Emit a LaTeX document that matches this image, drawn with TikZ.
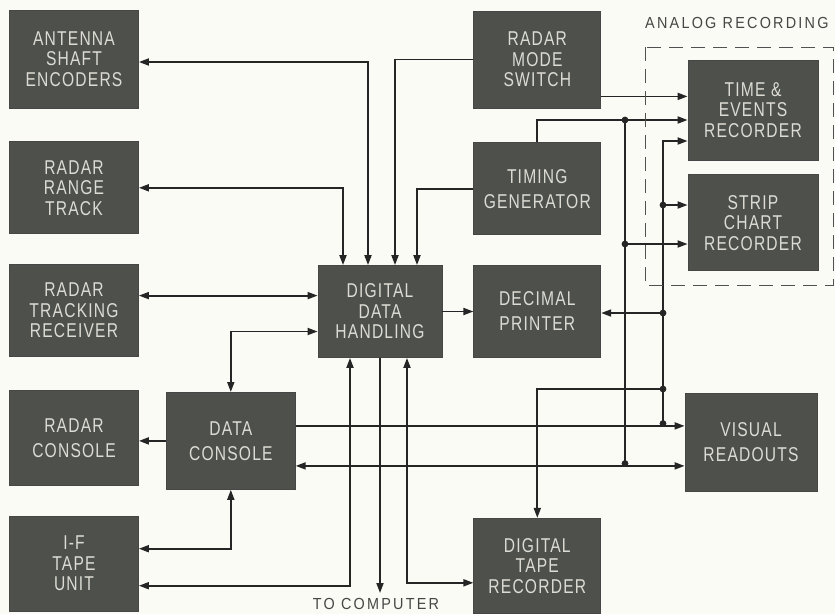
\documentclass[tikz,border=0pt]{standalone}
\usepackage{fontspec}
\setmainfont{Liberation Sans}
\newfontfamily\blockfont[FakeStretch=0.78,LetterSpace=6]{Liberation Sans}
\newfontfamily\labelfont[FakeStretch=0.9,LetterSpace=14]{Liberation Sans}
\usetikzlibrary{arrows.meta, positioning}
\definecolor{PaperWhite}{HTML}{FBFBF5}
\definecolor{BlockGray}{HTML}{4E504C}
\definecolor{BlockText}{HTML}{DCDCD4}
\definecolor{InkBlack}{HTML}{252525}

\begin{document}
\begin{tikzpicture}[
  x=1pt, y=-1pt,
  block/.style={rectangle, draw=InkBlack!85, fill=BlockGray, line width=0.8pt,
    minimum height=95pt, minimum width=129pt, inner sep=0pt, align=center,
    text=BlockText, font=\blockfont\fontsize{20}{20.5}\selectfont},
  twoline/.style={font=\blockfont\fontsize{20}{25}\selectfont},
  wire/.style={draw=InkBlack, line width=1.8pt},
  caption/.style={font=\labelfont\fontsize{16}{18}\selectfont, text=InkBlack!85, inner sep=0pt},
  >={Triangle[length=10pt, width=7pt]}
]
  \fill[PaperWhite] (0,0) rectangle (835,614);
  \useasboundingbox (0,0) rectangle (835,614);

  % left column
  \node[block, minimum height=98pt] (ase) at (74,59) {ANTENNA\\SHAFT\\ENCODERS};
  \node[block, minimum height=92pt, below=33pt of ase] (rrt) {RADAR\\RANGE\\TRACK};
  \node[block, minimum height=92pt, below=30pt of rrt] (rtr) {RADAR\\TRACKING\\RECEIVER};
  \node[block, twoline, below=33pt of rtr] (rc) {RADAR\\CONSOLE};
  \node[block, below=30pt of rc] (ifu) {I-F\\TAPE\\UNIT};
  \node[block, twoline, minimum height=97pt, right=27pt of rc, yshift=-3pt] (dc) {DATA\\CONSOLE};

  % middle
  \node[block, minimum width=124pt, minimum height=92pt] (ddh) at (380,311.5) {DIGITAL\\DATA\\HANDLING};
  \node[block, twoline, minimum width=127pt, minimum height=92pt, right=31pt of ddh] (dp) {DECIMAL\\PRINTER};
  \node[block, twoline, minimum width=127pt, minimum height=92pt, above=30pt of dp] (tg) {TIMING\\GENERATOR};
  \node[block, minimum width=127pt, minimum height=97pt, above=34pt of tg] (rms) {RADAR\\MODE\\SWITCH};
  \node[block, minimum width=127pt, below=160pt of dp] (dtr) {DIGITAL\\TAPE\\RECORDER};

  % right column
  \node[block, minimum width=130pt, minimum height=100pt] (te) at (753,110) {TIME \&\\EVENTS\\RECORDER};
  \node[block, minimum width=130pt, minimum height=96pt, below=14pt of te] (scr) {STRIP\\CHART\\RECORDER};
  \node[block, twoline, minimum width=132pt, minimum height=98pt] (vr) at (751,442) {VISUAL\\READOUTS};

  \node[caption, anchor=west] (analog) at (645,23) {ANALOG RECORDING};
  \node[caption, anchor=north, outer sep=5pt] (tocomp) at (376,593) {TO COMPUTER};

  % into digital data handling
  \draw[wire, <->] ([yshift=-3pt]ase.east) -| ([xshift=-12pt]ddh.north);
  \draw[wire, <->] (rrt.east) -| ([xshift=-37pt]ddh.north);
  \draw[wire, ->] (rms.west) -| ([xshift=15pt]ddh.north);
  \draw[wire, ->] (tg.west) -| ([xshift=37pt]ddh.north);
  \draw[wire, <->] ([yshift=15pt]rtr.east) -- ([yshift=15pt]rtr.east -| ddh.west);
  \draw[wire, <->] ([yshift=-20pt]ddh.west) -| (dc.north);
  \draw[wire, ->] (ddh.east) -- (ddh.east -| dp.west);

  % data console
  \draw[wire, ->] (dc.west) -- (dc.west -| rc.east);
  \draw[wire, <->] (dc.south) |- ([yshift=15pt]ifu.east);
  \draw[wire, <->] ([yshift=-22pt]ifu.east) -| ([xshift=-30pt]ddh.south);
  \draw[wire, ->] (ddh.south) -- (ddh.south |- tocomp.north);
  \draw[wire, <->] ([xshift=27pt]ddh.south) |- ([yshift=-17pt]dtr.west);
  \draw[wire, ->] ([yshift=15pt]dc.east) -- ([yshift=15pt]dc.east -| vr.west);
  \draw[wire, <->] ([yshift=-25pt]dc.east) -- ([yshift=-25pt]dc.east -| vr.west);

  % analog recording
  \draw[wire, ->] ([yshift=-37pt]rms.east) -- ([yshift=-37pt]rms.east -| te.west);
  \draw[wire, ->] (tg.north) |- ([yshift=-10pt]te.west);

  % bus lines
  \coordinate (ja1) at (625,120);
  \coordinate (ja2) at (625,244);
  \coordinate (ja3) at (625,463.5);
  \coordinate (jb1) at (663,205);
  \coordinate (jb2) at (663,313);
  \coordinate (jb3) at (663,389);
  \coordinate (jb4) at (663,423.5);
  \draw[wire] (ja1) -- (ja3);
  \draw[wire, ->] (ja2) -- (ja2 -| scr.west);
  \draw[wire, ->] (jb4) |- ([yshift=-31pt]te.west);
  \draw[wire, ->] (jb1) -- (jb1 -| scr.west);
  \draw[wire, ->] (jb2) -- (jb2 -| dp.east);
  \draw[wire, ->] (jb3) -| (dtr.north);
  \foreach \j in {ja1,ja2,ja3,jb1,jb2,jb3,jb4}
    \fill[InkBlack] (\j) circle[radius=3.4pt];

  \draw[InkBlack!80, line width=1pt, dash pattern=on 14pt off 8pt] (645,47) rectangle (833,285);
\end{tikzpicture}
\end{document}
